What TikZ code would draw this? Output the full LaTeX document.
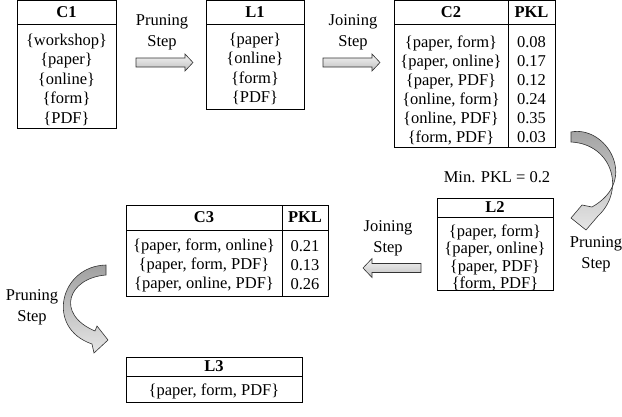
\documentclass[tikz,border=0pt]{standalone}
\usepackage{fontspec}
\setmainfont{Liberation Serif}
\begin{document}
\begin{tikzpicture}[x=1pt,y=-1pt,
  cell/.style={draw=black,line width=0.9pt,inner sep=0pt,align=center,font=\fontsize{16.5}{19}\selectfont},
  hd/.style={cell,font=\fontsize{16.5}{19}\selectfont\bfseries},
  txt/.style={inner sep=0pt,align=center,font=\fontsize{16.5}{19}\selectfont},
  lbl/.style={inner sep=0pt,align=center,font=\fontsize{16.5}{21}\selectfont},
  sarrow/.style={draw=black!80,line width=0.6pt,top color=gray!8,bottom color=gray!50},
  carrow/.style={draw=black!80,line width=0.6pt,top color=gray!75,bottom color=gray!20}]
\useasboundingbox (0,0) rectangle (622,416);
% C1
\node[hd,minimum width=99,minimum height=23.5] (c1h) at (66.5,12.25) {C1};
\node[cell,minimum width=99,minimum height=104] (c1b) at (66.5,76) {};
\node[txt,font=\fontsize{16.5}{19.5}\selectfont] (c1t) at ([yshift=-3.5pt]c1b.center) {\{workshop\}\\\{paper\}\\\{online\}\\\{form\}\\\{PDF\}};
% L1
\node[hd,minimum width=98,minimum height=23.5] (l1h) at (255,12.25) {L1};
\node[cell,minimum width=98,minimum height=85] (l1b) at (255,66.5) {};
\node[txt,font=\fontsize{16.5}{19.3}\selectfont] (l1t) at ([yshift=-2.5pt]l1b.center) {\{paper\}\\\{online\}\\\{form\}\\\{PDF\}};
% C2
\node[hd,minimum width=114,minimum height=23.5] (c2h) at (451,12.25) {C2};
\node[hd,minimum width=47,minimum height=23.5] (c2ph) at (531.5,12.25) {PKL};
\node[cell,minimum width=114,minimum height=123] (c2b) at (451,85.5) {};
\node[cell,minimum width=47,minimum height=123] (c2p) at (531.5,85.5) {};
\node[txt] (c2t) at ([yshift=-4.5pt]c2b.center) {\{paper, form\}\\\{paper, online\}\\\{paper, PDF\}\\\{online, form\}\\\{online, PDF\}\\\{form, PDF\}};
\node[txt] (c2v) at ([yshift=-4.5pt]c2p.center) {0.08\\0.17\\0.12\\0.24\\0.35\\0.03};
% L2
\node[hd,minimum width=116,minimum height=19] (l2h) at (495,207.5) {L2};
\node[cell,minimum width=116,minimum height=73] (l2b) at (495,253.5) {};
\node[txt,font=\fontsize{16.5}{17.3}\selectfont] (l2t) at ([yshift=-4.5pt]l2b.center) {\{paper, form\}\\\{paper, online\}\\\{paper, PDF\}\\\{form, PDF\}};
% C3
\node[hd,minimum width=156,minimum height=25] (c3h) at (204,217.5) {C3};
\node[hd,minimum width=46,minimum height=25] (c3ph) at (305,217.5) {PKL};
\node[cell,minimum width=156,minimum height=66] (c3b) at (204,263) {};
\node[cell,minimum width=46,minimum height=66] (c3p) at (305,263) {};
\node[txt] (c3t) at ([yshift=-2.5pt]c3b.center) {\{paper, form, online\}\\\{paper, form, PDF\}\\\{paper, online, PDF\}};
\node[txt] (c3v) at ([yshift=-2.5pt]c3p.center) {0.21\\0.13\\0.26};
% L3
\node[hd,minimum width=176,minimum height=19] (l3h) at (214,366.5) {L3};
\node[cell,minimum width=176,minimum height=26] (l3b) at (214,389) {};
\node[txt] (l3t) at ([yshift=-2.5pt]l3b.center) {\{paper, form, PDF\}};
% labels
\node[lbl] (t1) at (162,32.5) {Pruning\\Step};
\node[lbl] (t2) at (353,32.5) {Joining\\Step};
\node[lbl] (t3) at (497,177) {Min. PKL = 0.2};
\node[lbl] (t4) at (596,254) {Pruning\\Step};
\node[lbl] (t5) at (388,238.5) {Joining\\Step};
\node[lbl] (t6) at (32,307.5) {Pruning\\Step};
% straight arrows
\shadedraw[sarrow] (136,58) -- (185,58) -- (185,54) -- (193,62.5) -- (185,71) -- (185,67) -- (136,67) -- cycle;
\shadedraw[sarrow] (323,58) -- (372,58) -- (372,54) -- (380,62.5) -- (372,71) -- (372,67) -- (323,67) -- cycle;
\shadedraw[sarrow] (421,263.5) -- (372,263.5) -- (372,258.5) -- (363,268) -- (372,277.5) -- (372,272.5) -- (421,272.5) -- cycle;
% curved arrows
\shadedraw[carrow] (571,132) .. controls (606,125) and (640,180) .. (592,207) -- (582,205) -- (571,218) -- (586,230) -- (598,216) .. controls (626,190) and (612,144) .. (571,142) -- cycle;
\shadedraw[carrow] (106,265) -- (106,275) .. controls (68,278) and (55,314) .. (95,331) -- (97,326) -- (108,340) -- (94,353) -- (92,344) .. controls (45,328) and (60,266) .. (106,265) -- cycle;
\end{tikzpicture}
\end{document}
